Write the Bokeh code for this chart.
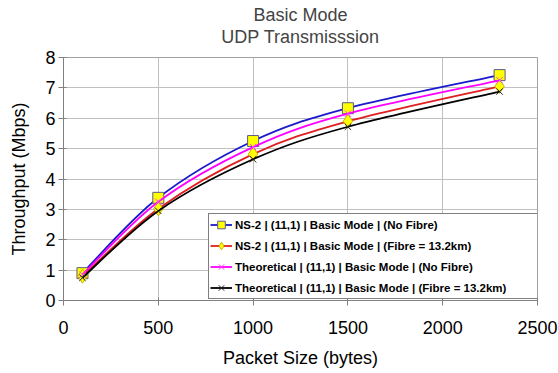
from bokeh.plotting import figure
from bokeh.models import Range1d, Title, Legend, LegendItem, FixedTicker
from bokeh.embed import file_html
from bokeh.resources import INLINE

packet_size = [100, 500, 1000, 1500, 2300]
ns2_no_fibre = [0.90, 3.38, 5.25, 6.33, 7.42]
ns2_fibre = [0.80, 3.02, 4.82, 5.90, 7.05]
theo_no_fibre = [0.85, 3.25, 5.05, 6.15, 7.25]
theo_fibre = [0.75, 2.95, 4.65, 5.72, 6.88]

labels = [
    "NS-2 | (11,1) | Basic Mode | (No Fibre)",
    "NS-2 | (11,1) | Basic Mode | (Fibre = 13.2km)",
    "Theoretical | (11,1) | Basic Mode | (No Fibre)",
    "Theoretical | (11,1) | Basic Mode | (Fibre = 13.2km)",
]
title_lines = ["Basic Mode", "UDP Transmisssion"]
x_ticks = [0, 500, 1000, 1500, 2000, 2500]
y_ticks = [0, 1, 2, 3, 4, 5, 6, 7, 8]

FONT = "Liberation Sans"

p = figure(width=558, height=373, output_backend="svg", toolbar_location=None,
           title=None, x_range=Range1d(0, 2500), y_range=Range1d(0, 8),
           min_border_left=63, min_border_right=21, min_border_bottom=73, min_border_top=57)

# spacer between the title and the plot frame, then the two title lines (added outward)
p.add_layout(Title(text=" ", text_font_size="1px", standoff=8), "above")
p.add_layout(Title(text=title_lines[1], text_font=FONT, text_font_size="18px",
                   text_font_style="normal", align="center", standoff=0), "above")
p.add_layout(Title(text=title_lines[0], text_font=FONT, text_font_size="18px",
                   text_font_style="normal", align="center", standoff=0), "above")

p.background_fill_color = "white"
p.border_fill_color = "white"
p.outline_line_color = "#a0a0a0"

for g in (p.xgrid, p.ygrid):
    g.grid_line_color = "#c0c0c0"
    g.grid_line_width = 1
p.xgrid.ticker = FixedTicker(ticks=x_ticks)
p.ygrid.ticker = FixedTicker(ticks=y_ticks)

p.xaxis.ticker = FixedTicker(ticks=x_ticks)
p.yaxis.ticker = FixedTicker(ticks=y_ticks)
p.xaxis.axis_label = "Packet Size (bytes)"
p.yaxis.axis_label = "Throughput (Mbps)"
for ax in (p.xaxis, p.yaxis):
    ax.axis_label_text_font = FONT
    ax.axis_label_text_font_size = "18px"
    ax.axis_label_text_font_style = "normal"
    ax.axis_label_text_color = "black"
    ax.major_label_text_font = FONT
    ax.major_label_text_font_size = "18px"
    ax.major_label_text_color = "black"
    ax.axis_line_color = "#808080"
    ax.major_tick_line_color = "#808080"
    ax.major_tick_in = 3
    ax.major_tick_out = 5
    ax.minor_tick_line_color = None
p.xaxis.major_label_standoff = 15
p.xaxis.axis_label_standoff = 11
p.yaxis.major_label_standoff = 3
p.yaxis.axis_label_standoff = 13


def smooth_segments(xs, ys):
    # Catmull-Rom style smoothing (like a spreadsheet "smoothed line")
    n = len(xs)
    x0, y0, x1, y1, cx0, cy0, cx1, cy1 = [], [], [], [], [], [], [], []
    for i in range(n - 1):
        im1 = max(i - 1, 0)
        ip2 = min(i + 2, n - 1)
        x0.append(xs[i]); y0.append(ys[i])
        x1.append(xs[i + 1]); y1.append(ys[i + 1])
        cx0.append(xs[i] + (xs[i + 1] - xs[im1]) / 6.0)
        cy0.append(ys[i] + (ys[i + 1] - ys[im1]) / 6.0)
        cx1.append(xs[i + 1] - (xs[ip2] - xs[i]) / 6.0)
        cy1.append(ys[i + 1] - (ys[ip2] - ys[i]) / 6.0)
    return dict(x0=x0, y0=y0, x1=x1, y1=y1, cx0=cx0, cy0=cy0, cx1=cx1, cy1=cy1)


series = [
    (ns2_no_fibre, "#1a1acc", dict(marker="square", size=11, fill_color="#ffff00", line_color="#5a5a8a", line_width=1)),
    (ns2_fibre, "#e02020", dict(marker="diamond", size=14, fill_color="#ffff00", line_color="#d0b000", line_width=1)),
    (theo_no_fibre, "#ff00ff", dict(marker="x", size=9, line_color="#ff40ff", line_width=1)),
    (theo_fibre, "#000000", dict(marker="x", size=9, line_color="#202020", line_width=1)),
]

legend_items = []
for (ys, color, mk), lab in zip(series, labels):
    seg = smooth_segments(packet_size, ys)
    br = p.bezier(line_color=color, line_width=1.8, **seg)
    sr = p.scatter(packet_size, ys, **mk)
    legend_items.append(LegendItem(label=lab, renderers=[br, sr]))

legend = Legend(items=legend_items, location=(145, 1), orientation="vertical",
                label_text_font=FONT, label_text_font_size="11.5px", label_text_font_style="bold",
                label_text_color="black", glyph_width=22, glyph_height=19, label_height=19,
                label_width=302, label_standoff=3, spacing=2, padding=1, margin=0,
                border_line_color="black", border_line_width=1,
                background_fill_color="white", background_fill_alpha=1.0)
p.add_layout(legend, "center")

open("out.html", "w").write(file_html(p, INLINE))
